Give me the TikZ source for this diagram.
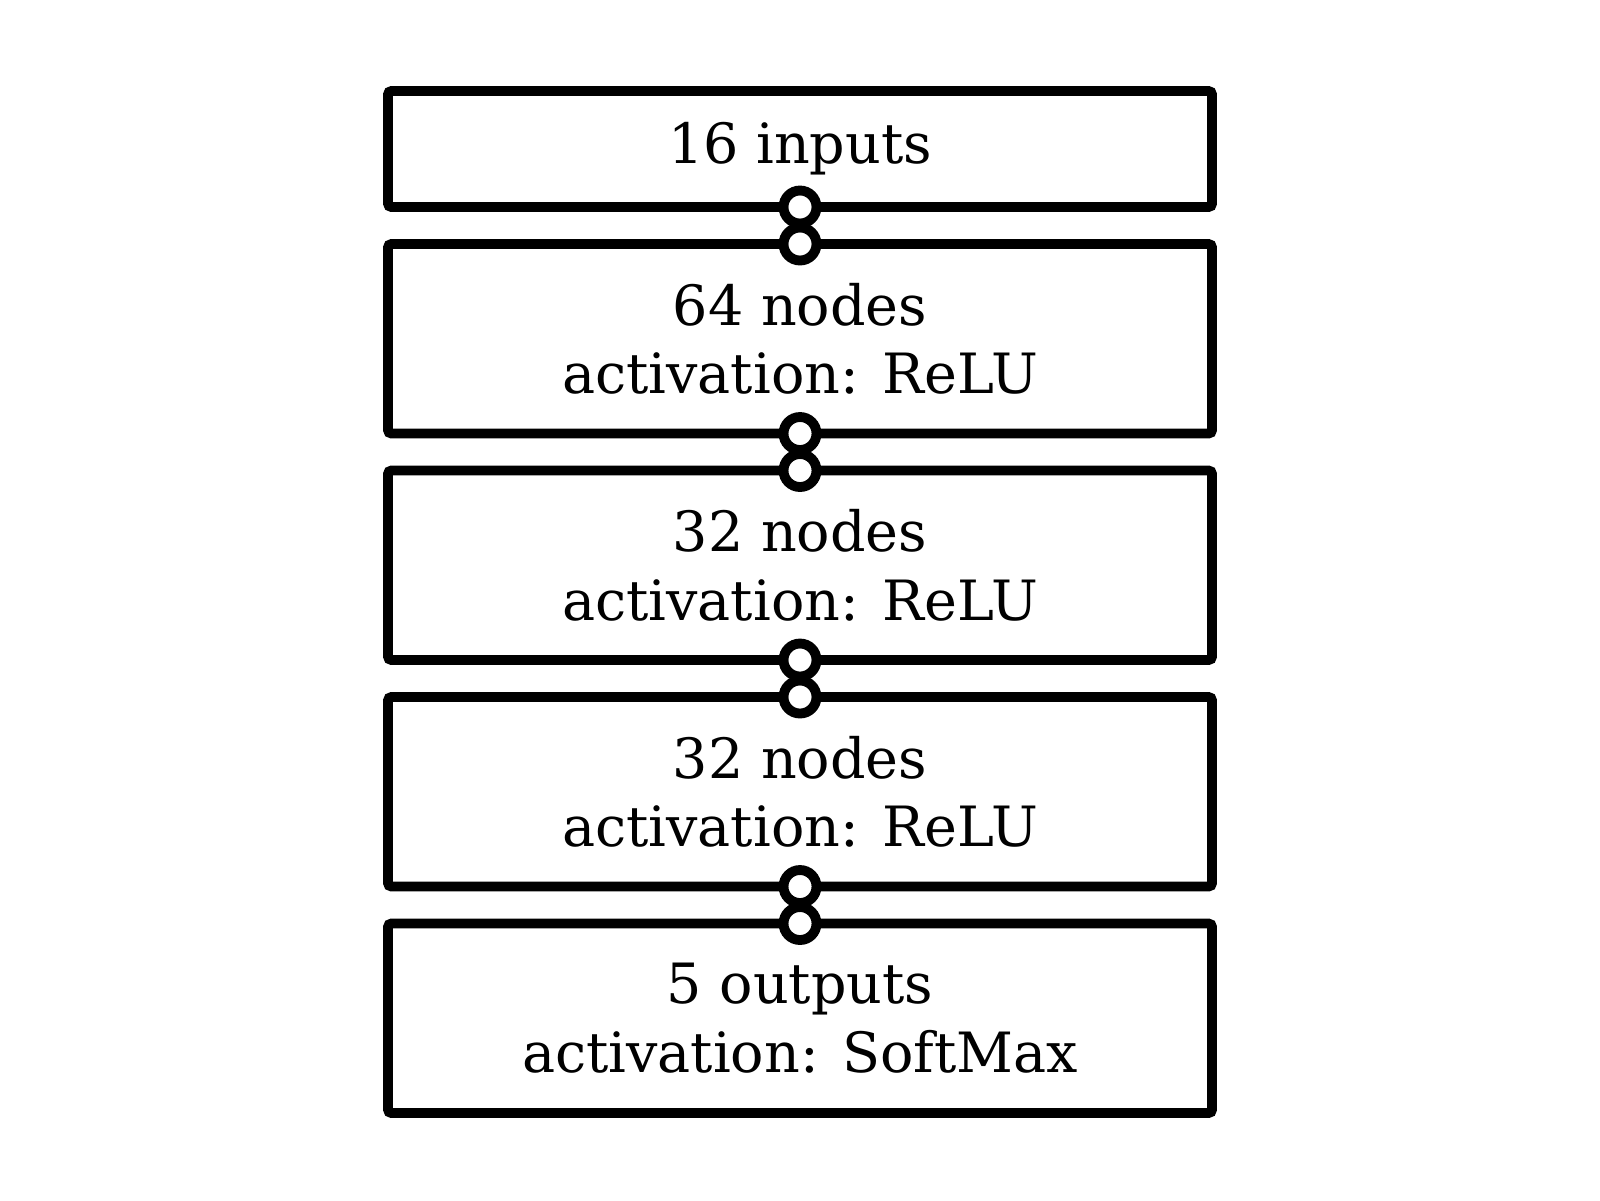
\documentclass[tikz,border=0pt]{standalone}
\usepackage{fontspec}
\setmainfont{DejaVu Serif}
\usepackage{tikz}
\usetikzlibrary{positioning}
\tikzstyle{layer} = [rectangle, draw=black, line width=2.8pt, rounded corners=1pt, outer sep=0pt, minimum width=8.24cm, minimum height=1.895cm, align=center, font=\fontsize{15.8}{19.6}\selectfont]
\tikzstyle{port} = [circle, draw=black, fill=white, line width=2.8pt, inner sep=0pt, minimum size=0.33cm]

\begin{document}
\begin{tikzpicture}[node distance=0.37cm]

  \useasboundingbox (0,0) rectangle (16,-12);

  % layers
  \node[layer, minimum height=1.16cm] (inp) at (8,-1.49) {16 inputs};
  \node[layer, below=of inp] (h1) {64 nodes\\activation: ReLU};
  \node[layer, below=of h1] (h2) {32 nodes\\activation: ReLU};
  \node[layer, below=of h2] (h3) {32 nodes\\activation: ReLU};
  \node[layer, below=of h3] (out) {5 outputs\\activation: SoftMax};

  % ports between layers
  \foreach \a/\b in {inp/h1, h1/h2, h2/h3, h3/out} {
    \node[port] (\a-s) at (\a.south) {};
    \node[port] (\b-n) at (\b.north) {};
  }

\end{tikzpicture}
\end{document}
